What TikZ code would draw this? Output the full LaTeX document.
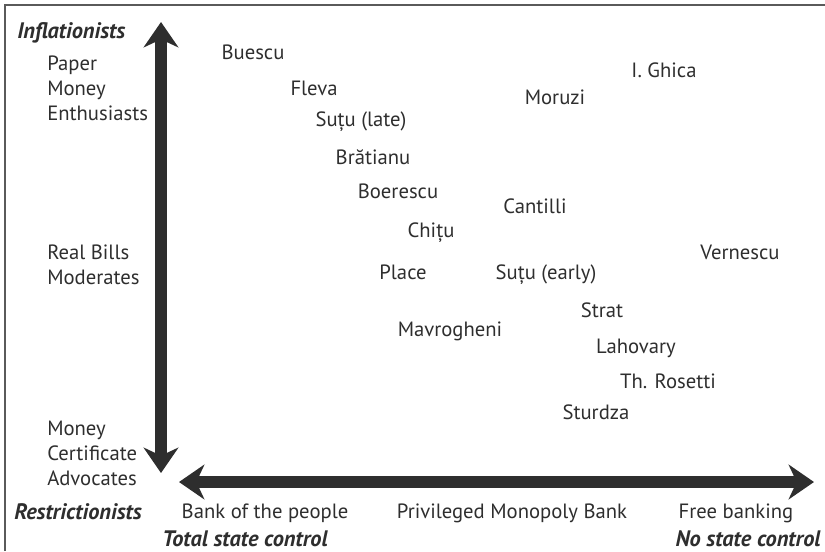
\documentclass[tikz,border=0pt]{standalone}
\usepackage{fontspec}
\setmainfont{PT Sans}
\usetikzlibrary{arrows.meta}
\definecolor{inkgray}{HTML}{2E2E2E}
\definecolor{framegray}{HTML}{5A5A5A}

\begin{document}
\begin{tikzpicture}[x=0.75pt, y=-0.75pt,
  txt/.style={font=\fontsize{15.5}{18.75}\selectfont, text=inkgray, inner sep=0pt},
  person/.style={txt, anchor=base},
  sidelabel/.style={txt, anchor=base west, align=left},
  pole/.style={txt, font=\fontsize{16.8}{18.75}\selectfont\bfseries\itshape},
  axisarrow/.style={line width=9.4pt, draw=inkgray,
    {Stealth[length=19pt,width=26pt,inset=6pt]}-{Stealth[length=19pt,width=26pt,inset=6pt]}}]
  \useasboundingbox (0,0) rectangle (825,551);
  % frame (top and left edges)
  \draw[framegray, line width=1.2pt] (5,551) -- (5,5) -- (825,5);

  % axes
  \coordinate (vtop) at (161,22);
  \coordinate (vbot) at (161,473);
  \coordinate (hleft) at (179,482);
  \coordinate (hright) at (814,482);
  \draw[axisarrow] (vtop) -- (vbot);
  \draw[axisarrow] (hleft) -- (hright);

  % vertical axis labels (base = last line)
  \node[pole, anchor=base west] (infl) at (17,38) {Inflationists};
  \node[sidelabel] (paper) at (47,120) {Paper\\Money\\Enthusiasts};
  \node[sidelabel] (realbills) at (47,284) {Real Bills\\Moderates};
  \node[sidelabel] (moneycert) at (47,485) {Money\\Certificate\\Advocates};
  \node[pole, anchor=base west] (restr) at (14,519) {Restrictionists};

  % horizontal axis labels
  \node[person] (bankpeople) at (265,518) {Bank of the people};
  \node[person] (monopoly) at (512,518) {Privileged Monopoly Bank};
  \node[person] (freebank) at (736,518) {Free banking};
  \node[pole, anchor=base] (total) at (245,546) {Total state control};
  \node[pole, anchor=base] (nostate) at (748,546) {No state control};

  % economists
  \node[person] (buescu) at (253,59) {Buescu};
  \node[person] (fleva) at (314,95) {Fleva};
  \node[person] (sutulate) at (361,126) {Suțu (late)};
  \node[person] (ghica) at (664,77) {I. Ghica};
  \node[person] (moruzi) at (555,104) {Moruzi};
  \node[person] (bratianu) at (373,164) {Brătianu};
  \node[person] (boerescu) at (398,198) {Boerescu};
  \node[person] (cantilli) at (535,213) {Cantilli};
  \node[person] (chitu) at (431,237) {Chițu};
  \node[person] (vernescu) at (740,259) {Vernescu};
  \node[person] (place) at (403,279) {Place};
  \node[person] (sutuearly) at (546,279) {Suțu (early)};
  \node[person] (strat) at (602,317) {Strat};
  \node[person] (mavrogheni) at (450,336) {Mavrogheni};
  \node[person] (lahovary) at (636,353) {Lahovary};
  \node[person] (rosetti) at (668,388) {Th. Rosetti};
  \node[person] (sturdza) at (596,419) {Sturdza};
\end{tikzpicture}
\end{document}
